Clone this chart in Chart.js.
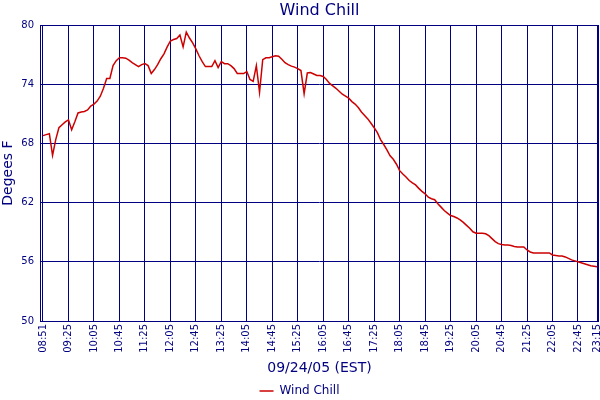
<!DOCTYPE html>
<html>
<head>
<meta charset="utf-8">
<script src="https://cdn.jsdelivr.net/npm/chart.js@4/dist/chart.umd.min.js"></script>
<style>
  html, body { margin: 0; padding: 0; background: #fff; }
  #wrap { width: 600px; height: 400px; }
</style>
</head>
<body>
<div id="wrap"><canvas id="myChart"></canvas></div>
<script>
// tick labels along the time axis (one every 8 readings, last one is the final reading)
const tickLabels = ['08:51', '09:25', '10:05', '10:45', '11:25', '12:05', '12:45', '13:25',
    '14:05', '14:45', '15:25', '16:05', '16:45', '17:25', '18:05', '18:45', '19:25',
    '20:05', '20:45', '21:25', '22:05', '22:45', '23:15'];

// wind chill readings (deg F)
const windChill = [
    68.8, 68.9, 69.0, 66.8, 68.4, 69.6, 69.9, 70.2, 70.4, 69.4,
    70.2, 71.1, 71.2, 71.25, 71.4, 71.8, 72.0, 72.3, 72.8, 73.6,
    74.6, 74.6, 75.9, 76.4, 76.7, 76.7, 76.65, 76.45, 76.2, 76.0,
    75.8, 76.0, 76.1, 75.9, 75.1, 75.5, 76.0, 76.6, 77.1, 77.8,
    78.4, 78.55, 78.65, 79.0, 77.8, 79.3, 78.7, 78.2, 77.6, 76.9,
    76.3, 75.8, 75.8, 75.8, 76.4, 75.7, 76.3, 76.1, 76.1, 75.9,
    75.6, 75.1, 75.1, 75.1, 75.3, 74.5, 74.3, 75.9, 73.2, 76.5,
    76.7, 76.7, 76.8, 76.9, 76.85, 76.55, 76.2, 76.0, 75.85, 75.75,
    75.6, 75.4, 73.05, 75.15, 75.2, 75.05, 74.9, 74.9, 74.8, 74.5,
    74.1, 73.85, 73.6, 73.3, 73.0, 72.8, 72.6, 72.25, 72.0, 71.65,
    71.2, 70.85, 70.5, 70.05, 69.6, 69.1, 68.4, 67.9, 67.35, 66.75,
    66.4, 65.9, 65.25, 64.9, 64.6, 64.25, 64.0, 63.8, 63.45, 63.15,
    62.9, 62.55, 62.4, 62.3, 61.9, 61.55, 61.2, 60.95, 60.7, 60.6,
    60.45, 60.25, 60.0, 59.7, 59.4, 59.05, 58.9, 58.9, 58.9, 58.85,
    58.65, 58.35, 58.05, 57.85, 57.75, 57.7, 57.7, 57.65, 57.55, 57.5,
    57.5, 57.5, 57.2, 57.0, 56.9, 56.9, 56.9, 56.9, 56.9, 56.9,
    56.7, 56.65, 56.6, 56.6, 56.5, 56.35, 56.2, 56.1, 56.0, 55.9,
    55.8, 55.7, 55.6, 55.55, 55.5
];

const yTicks = [50, 56, 62, 68, 74, 80];

const navy = '#000080';
const red = '#cc0000';
const font = 'DejaVu Sans';

const lastIdx = windChill.length - 1;
const tickPos = tickLabels.map((l, i) => i === tickLabels.length - 1 ? lastIdx : i * 8);

// frame around the plot area
const frame = {
    id: 'frame',
    afterDraw(chart) {
        const a = chart.chartArea;
        const ctx = chart.ctx;
        ctx.save();
        ctx.strokeStyle = navy;
        ctx.lineWidth = 1;
        ctx.strokeRect(Math.round(a.left) + 0.5, Math.round(a.top) + 0.5,
            Math.round(a.right - a.left) - 1, Math.round(a.bottom - a.top));
        ctx.restore();
    }
};

const ctx = document.getElementById('myChart').getContext('2d');
new Chart(ctx, {
    type: 'line',
    data: {
        datasets: [{
            label: 'Wind Chill',
            data: windChill.map((v, i) => ({ x: i, y: v })),
            borderColor: red,
            backgroundColor: red,
            borderWidth: 1.5,
            pointRadius: 0,
            tension: 0
        }]
    },
    options: {
        responsive: true,
        maintainAspectRatio: false,
        animation: false,
        layout: { padding: { left: 0, right: 1, top: 0, bottom: -7 } },
        plugins: {
            title: {
                display: true,
                text: 'Wind Chill',
                color: navy,
                fullSize: false,
                font: { family: font, size: 16, weight: 'normal' },
                padding: { top: 1, bottom: 5 }
            },
            legend: {
                position: 'bottom',
                labels: {
                    color: navy,
                    font: { family: font, size: 12 },
                    usePointStyle: true,
                    pointStyle: 'line',
                    pointStyleWidth: 14,
                    padding: 1
                }
            },
            tooltip: { enabled: false }
        },
        scales: {
            x: {
                type: 'linear',
                min: -0.94,
                max: lastIdx + 0.6,
                afterBuildTicks: scale => {
                    scale.ticks = tickPos.map(v => ({ value: v }));
                },
                afterFit: scale => {
                    scale.height = 63;
                    scale.paddingLeft = 0;
                    scale.paddingRight = 0;
                },
                ticks: {
                    autoSkip: false,
                    maxRotation: 90,
                    minRotation: 90,
                    padding: 3,
                    color: navy,
                    font: { family: font, size: 10 },
                    callback: (value, index) => tickLabels[index]
                },
                grid: { color: navy, lineWidth: 1, drawTicks: false },
                border: { display: false },
                title: {
                    display: true,
                    text: '09/24/05 (EST)',
                    color: navy,
                    font: { family: font, size: 14 },
                    padding: { top: 0, bottom: 7 }
                }
            },
            y: {
                min: 50,
                max: 80,
                afterBuildTicks: scale => {
                    scale.ticks = yTicks.map(v => ({ value: v }));
                },
                afterFit: scale => {
                    scale.width = 40;
                    scale.paddingTop = 0;
                    scale.paddingBottom = 0;
                },
                ticks: {
                    padding: 6,
                    color: navy,
                    font: { family: font, size: 10 }
                },
                grid: { color: navy, lineWidth: 1, drawTicks: false },
                border: { display: false },
                title: {
                    display: true,
                    text: 'Degees F',
                    color: navy,
                    font: { family: font, size: 14 },
                    padding: 0
                }
            }
        }
    },
    plugins: [frame]
});
</script>
</body>
</html>
